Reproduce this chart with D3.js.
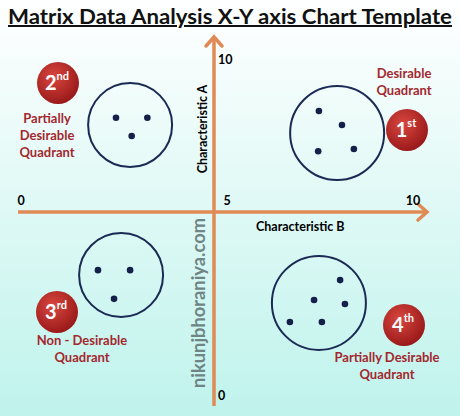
<!DOCTYPE html>
<html><head><meta charset="utf-8">
<script src="https://cdn.jsdelivr.net/npm/d3@7"></script>
<style>body{margin:0;}svg{display:block;font-family:Lato,"Open Sans",sans-serif;}</style>
</head><body>
<svg id="chart" width="460" height="416"></svg>
<script>
// data values (Characteristic B, Characteristic A)
var clusters = [
	{ q: "2nd", cx: 2.86, cy: 7.86, r: 42 },
	{ q: "1st", cx: 8.31, cy: 7.6, r: 47 },
	{ q: "3rd", cx: 2.63, cy: 3.29, r: 42 },
	{ q: "4th", cx: 7.82, cy: 2.53, r: 47 }
];
var points = [
	[2.5, 8.1], [3.3, 8.1], [2.9, 7.5],
	[7.82, 8.32], [8.44, 7.86], [7.8, 7.0], [8.76, 7.07],
	[2.04, 3.42], [2.86, 3.42], [2.45, 2.64],
	[8.39, 3.15], [7.69, 2.61], [8.52, 2.5], [7.04, 2.01], [7.9, 2.01]
];
var badges = [
	{ n: "2", s: "nd", x: 58, y: 83, label: ["Partially", "Desirable", "Quadrant"], lx: 47, ly: 123 },
	{ n: "1", s: "st", x: 407, y: 130, label: ["Desirable", "Quadrant"], lx: 404, ly: 78 },
	{ n: "3", s: "rd", x: 57, y: 312, label: ["Non - Desirable", "Quadrant"], lx: 82, ly: 345 },
	{ n: "4", s: "th", x: 404, y: 325, label: ["Partially Desirable", "Quadrant"], lx: 387, ly: 362 }
];
var xTicks = [0, 5, 10], yTicks = [0, 5, 10];

var svg = d3.select("#chart");
var defs = svg.append("defs");
var bg = defs.append("linearGradient").attr("id", "bg").attr("x1", 0).attr("y1", 0).attr("x2", 0).attr("y2", 1);
bg.append("stop").attr("offset", "0").attr("stop-color", "#ffffff");
bg.append("stop").attr("offset", "1").attr("stop-color", "#bff3ec");
var ball = defs.append("radialGradient").attr("id", "ball").attr("cx", "40%").attr("cy", "35%").attr("r", "65%");
ball.append("stop").attr("offset", "0").attr("stop-color", "#d9473f");
ball.append("stop").attr("offset", "1").attr("stop-color", "#9a1a1a");
svg.append("rect").attr("width", 460).attr("height", 416).attr("fill", "url(#bg)");

var x = d3.scaleLinear().domain([0, 5, 10]).range([18, 214, 400]);
var y = d3.scaleLinear().domain([0, 5, 10]).range([396, 212, 60]);

// title
svg.append("text").attr("x", 8).attr("y", 24)
	.attr("font-size", 20).attr("font-weight", "bold").attr("text-decoration", "underline")
	.attr("textLength", 444).attr("lengthAdjust", "spacingAndGlyphs")
	.attr("fill", "#111").text("Matrix Data Analysis X-Y axis Chart Template");

// watermark
svg.append("text").attr("transform", "translate(205,303) rotate(-90)").attr("text-anchor", "middle")
	.attr("font-size", 19).attr("font-weight", "bold").attr("fill", "#6e8584")
	.attr("textLength", 170).attr("lengthAdjust", "spacingAndGlyphs").text("nikunjbhoraniya.com");

// axes
var axisCol = "#e08a55";
svg.append("line").attr("x1", 18).attr("x2", 426).attr("y1", y(5)).attr("y2", y(5))
	.attr("stroke", axisCol).attr("stroke-width", 3.5);
svg.append("path").attr("d", "M418,204 L427," + y(5) + " L418,220").attr("fill", "none")
	.attr("stroke", axisCol).attr("stroke-width", 3.5).attr("stroke-linecap", "round");
svg.append("line").attr("x1", x(5)).attr("x2", x(5)).attr("y1", 38).attr("y2", 406)
	.attr("stroke", axisCol).attr("stroke-width", 3.5);
svg.append("path").attr("d", "M206,46 L" + x(5) + ",37 L222,46").attr("fill", "none")
	.attr("stroke", axisCol).attr("stroke-width", 3.5).attr("stroke-linecap", "round");

// tick labels
svg.selectAll(".xt").data(xTicks).enter().append("text")
	.attr("x", function(d){ return d == 0 ? x(d) + 3 : x(d) + 13; })
	.attr("y", 205).attr("text-anchor", "middle").attr("font-size", 12.5).attr("font-weight", "bold")
	.text(function(d){ return d; });
svg.selectAll(".yt").data([0, 10]).enter().append("text")
	.attr("x", 218).attr("y", function(d){ return y(d) + 4; })
	.attr("font-size", 12.5).attr("font-weight", "bold").text(function(d){ return d; });
svg.append("text").attr("x", 256).attr("y", 231).attr("font-size", 12.5).attr("font-weight", "bold").text("Characteristic B");
svg.append("text").attr("transform", "translate(207,129) rotate(-90)").attr("text-anchor", "middle")
	.attr("font-size", 12.5).attr("font-weight", "bold").text("Characteristic A");

// clusters
svg.selectAll(".cl").data(clusters).enter().append("circle")
	.attr("cx", function(d){ return x(d.cx); }).attr("cy", function(d){ return y(d.cy); })
	.attr("r", function(d){ return d.r; }).attr("fill", "none").attr("stroke", "#1a2a55").attr("stroke-width", 2);
svg.selectAll(".pt").data(points).enter().append("circle")
	.attr("cx", function(d){ return x(d[0]); }).attr("cy", function(d){ return y(d[1]); })
	.attr("r", 3.3).attr("fill", "#15204a");

// badges
var b = svg.selectAll(".bd").data(badges).enter().append("g");
b.append("circle").attr("cx", function(d){ return d.x; }).attr("cy", function(d){ return d.y; })
	.attr("r", 21).attr("fill", "url(#ball)");
var bt = b.append("text").attr("x", function(d){ return d.x - 1; }).attr("y", function(d){ return d.y + 7; })
	.attr("text-anchor", "middle").attr("fill", "#fff").attr("font-weight", "bold");
bt.append("tspan").attr("font-size", 20).text(function(d){ return d.n; });
bt.append("tspan").attr("font-size", 11).attr("dy", -10).text(function(d){ return d.s; });
b.each(function(d){
	var g = d3.select(this);
	d.label.forEach(function(t, i){
		g.append("text").attr("x", d.lx).attr("y", d.ly + i * 17).attr("text-anchor", "middle")
			.attr("font-size", 13).attr("font-weight", "bold").attr("fill", "#a3282e").text(t);
	});
});
</script>
</body></html>
